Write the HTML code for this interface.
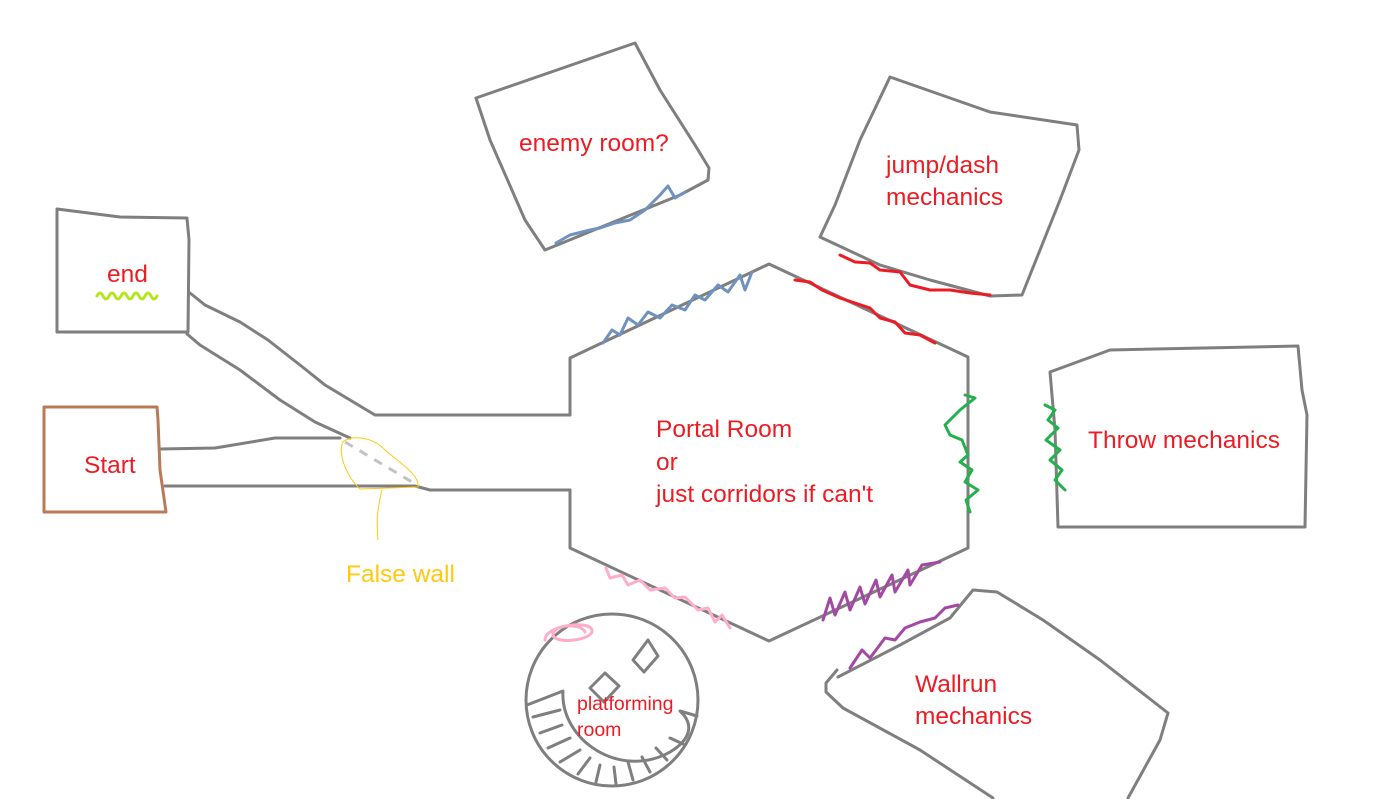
<!DOCTYPE html>
<html><head><meta charset="utf-8"><style>
html,body{margin:0;padding:0;background:#fff;}
svg{display:block;}
text{font-family:"Liberation Sans",sans-serif;}
</style></head><body>
<svg width="1386" height="799" viewBox="0 0 1386 799">
<g fill="none" stroke="#7f7f7f" stroke-width="3" stroke-linejoin="round" stroke-linecap="round">
<path d="M57,209 L120,217 L187,218 L189,240 L188,332 L57,332 Z"/>
<path d="M190,293 L205,305 L240,322 L268,340 L300,365 L325,385 L375,415 L570,415"/>
<path d="M187,334 L200,345 L240,370 L280,400 L315,422 L350,438"/>
<path d="M160,449 L215,448 L275,438 L340,438"/>
<path d="M165,486 L415,486 L430,490 L570,490"/>
<path d="M570,415 L570,358 L769,264 L968,357 L968,548 L769,641 L570,548 L570,490"/>
<path d="M476,98 L635,43 L660,90 L695,145 L709,168 L708,180 L680,195 L545,250 L525,220 L490,140 Z"/>
<path d="M890,77 L990,112 L1077,125 L1079,150 L1060,200 L1022,295 L990,296 L930,280 L880,265 L820,237 L835,205 L860,140 Z"/>
<path d="M1050,372 L1110,350 L1298,346 L1302,390 L1307,415 L1305,527 L1058,527 L1055,430 Z"/>
<path d="M837,670 L826,683 L826,692 L843,708 L920,750 L993,798 M838,677 L900,645 L950,618 L973,590 L997,592 L1043,620 L1100,660 L1168,713 L1160,740 L1128,798"/>
<circle cx="612" cy="700" r="86"/>
<path d="M633,660 L648,640 L658,656 L644,672 Z"/>
<path d="M590,688 L605,673 L619,686 L604,702 Z"/>
<path d="M527,705 L563,691 C560,740 620,780 670,752 C690,740 695,725 680,711 L697,716 M533,717 L560,710 M540,733 L562,725 M548,748 L570,738 M560,762 L580,750 M578,774 L590,758 M596,782 L600,765 M616,784 L614,767 M633,780 L628,762 M650,772 L642,757 M667,760 L656,748 M683,744 L670,738"/>
</g>
<path d="M44,407 L157,407 L158,420 L160,470 L166,512 L44,512 Z" fill="none" stroke="#b97a57" stroke-width="3" stroke-linejoin="round"/>
<g fill="none" stroke-width="3" stroke-linecap="round" stroke-linejoin="round">
<path stroke="#b5e61d" d="M97,296 q3,-6 6,0 q3,6 6,0 q3,-6 6,0 q3,6 6,0 q3,-6 6,0 q3,6 6,0 q3,-6 6,0 q3,6 6,0 q3,-6 6,0 q3,6 6,0"/>
<path stroke="#7092be" d="M556,243 L570,235 L590,230 L600,228 L615,223 L630,220 L645,210 L660,195 L668,186 L675,198 L685,192"/>
<path stroke="#7092be" d="M603,343 L612,330 L620,335 L628,318 L638,325 L648,312 L660,318 L672,305 L685,310 L695,295 L705,300 L718,285 L728,292 L740,275 L745,290 L752,272"/>
<path stroke="#ed1c24" d="M840,255 L855,262 L870,263 L880,270 L900,272 L910,285 L930,290 L950,290 L970,293 L990,295"/>
<path stroke="#ed1c24" d="M795,280 L810,282 L822,290 L840,298 L855,303 L870,308 L880,318 L895,322 L905,333 L920,335 L935,343"/>
<path stroke="#22b14c" d="M965,395 L975,398 L960,410 L945,425 L950,435 L962,440 L968,455 L960,462 L972,470 L965,482 L978,490 L966,500 L970,512"/>
<path stroke="#22b14c" d="M1045,405 L1055,410 L1048,420 L1058,428 L1046,440 L1060,450 L1050,460 L1062,470 L1055,480 L1065,490"/>
<path stroke="#ffaec9" d="M606,568 L610,578 L622,575 L628,585 L640,580 L650,590 L665,588 L675,598 L685,597 L698,610 L708,608 L715,622 L722,615 L730,628"/>
<path stroke="#ffaec9" d="M545,640 C545,625 590,620 592,630 C594,640 555,645 553,635 C552,625 580,622 585,632"/>
<path stroke="#a349a4" d="M823,620 L830,598 L835,615 L845,592 L850,610 L860,587 L865,604 L876,580 L880,597 L892,575 L895,592 L908,570 L910,585 L922,565 L940,562"/>
<path stroke="#a349a4" d="M850,668 L862,650 L870,658 L885,638 L895,640 L905,628 L920,622 L935,618 L945,608 L958,605"/>
</g>
<path d="M343,442 C350,435 372,436 385,450 C400,463 420,475 418,487 L360,489 C345,475 338,452 343,442 Z M382,490 C378,505 376,520 378,540" fill="none" stroke="#ffc90e" stroke-width="1"/>
<path d="M345,442 L412,482" stroke="#c3c3c3" stroke-width="3" stroke-dasharray="9,8" fill="none"/>
<g fill="#ed1c24" font-size="24.5">
<text x="107" y="282">end</text>
<text x="84" y="473">Start</text>
<text x="519" y="151">enemy room?</text>
<text x="886" y="173">jump/dash</text>
<text x="886" y="205">mechanics</text>
<text x="656" y="437">Portal Room</text>
<text x="656" y="470">or</text>
<text x="656" y="502">just corridors if can't</text>
<text x="1088" y="448">Throw mechanics</text>
<text x="915" y="692">Wallrun</text>
<text x="915" y="724">mechanics</text>
<text x="577" y="710" font-size="19.5">platforming</text>
<text x="577" y="736" font-size="19.5">room</text>
</g>
<text x="346" y="582" fill="#ffc90e" font-size="24.5">False wall</text>
</svg>
</body></html>
